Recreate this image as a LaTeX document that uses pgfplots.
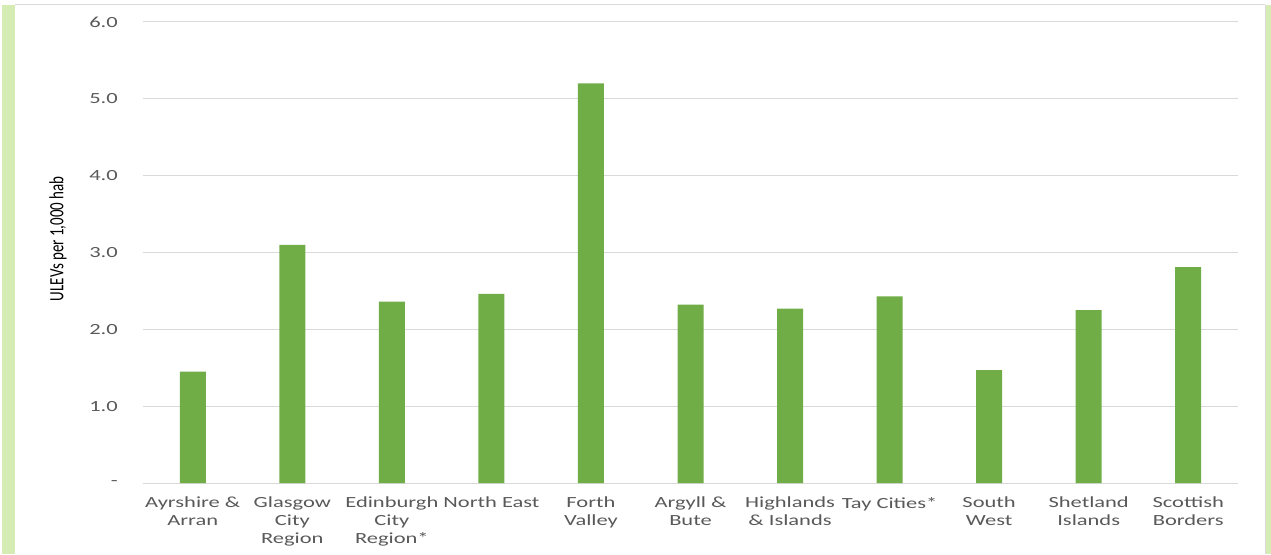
\documentclass[border=0pt]{standalone}
\usepackage{pgfplots}
\pgfplotsset{compat=1.18}
\usepackage{fontspec}
\setmainfont[FakeStretch=1.45]{Carlito}
\newfontfamily\plainfont{Carlito}
\definecolor{bargreen}{HTML}{70AD47}
\definecolor{stripegreen}{HTML}{D5EDB5}
\definecolor{gridgray}{HTML}{D9D9D9}
\definecolor{txtgray}{HTML}{595959}
\begin{document}
\begin{tikzpicture}
\path[use as bounding box] (0,0) rectangle (1271pt,554pt);
\fill[stripegreen] (2pt,0) rectangle (15pt,549pt);
\fill[stripegreen] (1265pt,0) rectangle (1271pt,549pt);
\draw[gridgray,line width=1pt] (15pt,549pt) -- (1265pt,549pt);
\draw[gridgray,line width=1pt] (1265pt,0) -- (1265pt,549pt);
\begin{axis}[
  at={(143pt,71pt)}, anchor=south west,
  scale only axis, width=1095pt, height=461pt,
  ybar, bar width=26pt,
  xmin=-0.5, xmax=10.5, ymin=0, ymax=6,
  xtick=data,
  xticklabels={{Ayrshire \&\\Arran},{Glasgow\\City\\Region},{Edinburgh\\City\\Region*},{North East},{Forth\\Valley},{Argyll \&\\Bute},{Highlands\\\& Islands},{Tay Cities*},{South\\West},{Shetland\\Islands},{Scottish\\Borders}},
  ytick={0,1,2,3,4,5,6},
  yticklabels={-,1.0,2.0,3.0,4.0,5.0,6.0},
  ymajorgrids, grid style={gridgray, line width=1pt},
  major tick length=0pt,
  axis line style={draw=none},
  /pgf/number format/assume math mode=true,
  tick label style={font=\fontsize{15.5}{18}\selectfont, text=txtgray},
  xticklabel style={align=center, anchor=north, inner sep=0pt, yshift=-14pt},
  yticklabel style={anchor=east, inner sep=0pt, xshift=-25pt},
  ylabel={\plainfont\scalebox{1}[1.35]{ULEVs per 1,000 hab}},
  ylabel style={at={(axis description cs:-0.0776,0.53)}, anchor=center, font=\fontsize{15}{18}\selectfont, text=black},
]
\addplot[fill=bargreen, draw=none] coordinates {
(0,1.45) (1,3.10) (2,2.36) (3,2.46) (4,5.20) (5,2.32) (6,2.27) (7,2.43) (8,1.47) (9,2.25) (10,2.81)};
\end{axis}
\end{tikzpicture}
\end{document}
